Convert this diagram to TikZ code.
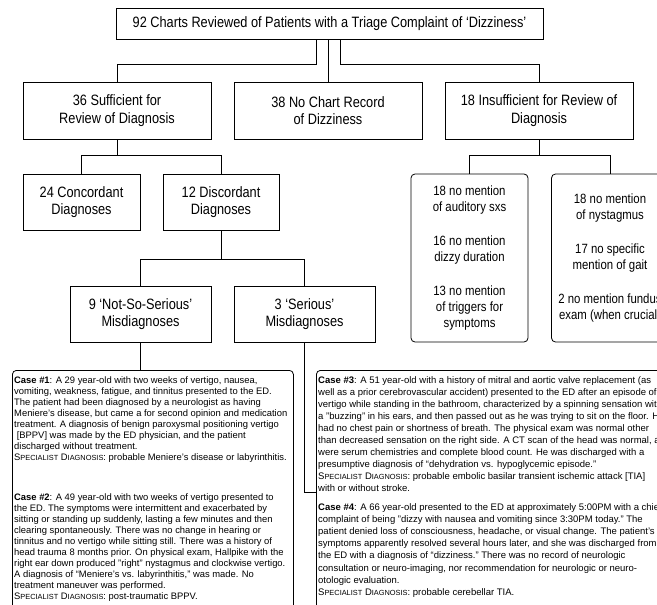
\documentclass[tikz,border=0pt]{standalone}
\usepackage{fontspec}
\setmainfont{Liberation Sans}
\newfontfamily\narrowfont[FakeStretch=0.85,Ligatures=TeX]{Liberation Sans}
\newcommand\smallcap[1]{{\fontsize{7.4bp}{11.1bp}\selectfont #1}}
\newcommand\specdx{S\smallcap{PECIALIST} D\smallcap{IAGNOSIS}}

\begin{document}
\begin{tikzpicture}[x=1bp,y=-1bp,
   every node/.style={inner sep=0pt},
   flowbox/.style={draw,line width=0.8bp,align=center,
      font=\narrowfont\fontsize{15bp}{17.5bp}\selectfont},
   notebox/.style={draw,line width=0.8bp,rounded corners=4bp,align=center,
      minimum width=117bp,minimum height=168bp,
      font=\narrowfont\fontsize{13.4bp}{16bp}\selectfont},
   casebox/.style={draw,line width=0.8bp,rounded corners=4bp,anchor=north west},
   casetext/.style={anchor=north west,align=left,
      font=\fontsize{9.4bp}{11.1bp}\selectfont},
   widecase/.style={casetext,font=\fontsize{9.5bp}{12.1bp}\selectfont},
   link/.style={line width=0.8bp}]
   \useasboundingbox (0,0) rectangle (657,605);

   \node[flowbox,minimum width=427bp,minimum height=31bp] (charts) at (329.5,23.5)
      {92 Charts Reviewed of Patients with a Triage Complaint of `Dizziness'};

   \node[flowbox,minimum width=188bp,minimum height=57bp] (suff) at (117,110.5)
      {36 Sufficient for\\Review of Diagnosis};
   \node[flowbox,minimum width=188bp,minimum height=57bp] (nochart) at (328,110.5)
      {38 No Chart Record\\of Dizziness};
   \node[flowbox,minimum width=188bp,minimum height=57bp] (insuff) at (539,110.5)
      {18 Insufficient for Review of\\Diagnosis};

   \node[flowbox,minimum width=117bp,minimum height=56bp] (conc) at (81.5,202)
      {24 Concordant\\Diagnoses};
   \node[flowbox,minimum width=116bp,minimum height=56bp] (disc) at (221,202)
      {12 Discordant\\Diagnoses};
   \node[notebox] (auditory) at (469.5,258)
      {18 no mention\\of auditory sxs\\[18bp]16 no mention\\dizzy duration\\[18bp]13 no mention\\of triggers for\\symptoms};
   \node[notebox] (nystag) at (610,258)
      {18 no mention\\of nystagmus\\[18bp]17 no specific\\mention of gait\\[18bp]2 no mention fundus\\exam (when crucial)};

   \node[flowbox,minimum width=141bp,minimum height=56bp] (mild) at (140.5,314)
      {9 `Not-So-Serious'\\Misdiagnoses};
   \node[flowbox,minimum width=141bp,minimum height=56bp] (grave) at (304.5,314)
      {3 `Serious'\\Misdiagnoses};

   % case boxes run off the page
   \node[casebox,minimum width=281bp,minimum height=300bp] (leftcases) at (12,370) {};
   \node[casebox,minimum width=380bp,minimum height=300bp] (rightcases) at (316,370) {};

   \node[casetext] (caseone) at (14,376)
      {\textbf{Case \#1}: A 29 year-old with two weeks of vertigo, nausea,\\
       vomiting, weakness, fatigue, and tinnitus presented to the ED.\\
       The patient had been diagnosed by a neurologist as having\\
       Meniere's disease, but came a for second opinion and medication\\
       treatment. A diagnosis of benign paroxysmal positioning vertigo\\{}
       [BPPV] was made by the ED physician, and the patient\\
       discharged without treatment.\\
       \specdx: probable Meniere's disease or labyrinthitis.};
   \node[casetext] (casetwo) at (14,493)
      {\textbf{Case \#2}: A 49 year-old with two weeks of vertigo presented to\\
       the ED. The symptoms were intermittent and exacerbated by\\
       sitting or standing up suddenly, lasting a few minutes and then\\
       clearing spontaneously. There was no change in hearing or\\
       tinnitus and  no vertigo while sitting still. There was a history of\\
       head trauma 8 months prior. On physical exam, Hallpike with the\\
       right ear down produced "right" nystagmus and clockwise vertigo.\\
       A diagnosis of “Meniere's vs. labyrinthitis," was made. No\\
       treatment maneuver was performed.\\
       \specdx: post-traumatic BPPV.};
   \node[widecase] (casethree) at (318,376)
      {\textbf{Case \#3}: A 51 year-old with a history of mitral and aortic valve replacement (as\\
       well as a prior cerebrovascular accident) presented to the ED after an episode of\\
       vertigo while standing in the bathroom, characterized by a spinning sensation with\\
       a "buzzing" in his ears, and then passed out as he was trying to sit on the floor. He\\
       had no chest pain or shortness of breath. The physical exam was normal other\\
       than decreased sensation on the right side. A CT scan of the head was normal, as\\
       were serum chemistries and complete blood count. He was discharged with a\\
       presumptive diagnosis of “dehydration vs. hypoglycemic episode."\\
       \specdx: probable embolic basilar transient ischemic attack [TIA]\\
       with or without stroke.};
   \node[widecase] (casefour) at (318,503.5)
      {\textbf{Case \#4}: A 66 year-old presented to the ED at approximately 5:00PM with a chief\\
       complaint of being "dizzy with nausea and vomiting since 3:30PM today." The\\
       patient denied loss of consciousness, headache, or visual change. The patient's\\
       symptoms apparently resolved several hours later, and she was discharged from\\
       the ED with a diagnosis of “dizziness." There was no record of neurologic\\
       consultation or neuro-imaging, nor recommendation for neurologic or neuro-\\
       otologic evaluation.\\
       \specdx: probable cerebellar TIA.};

   % connectors
   \draw[link] ([xshift=-13.5bp]charts.south) -- ++(0,25) -| (suff.north);
   \draw[link] (nochart.north) -- (nochart.north |- charts.south);
   \draw[link] ([xshift=10.5bp]charts.south) -- ++(0,25) -| (insuff.north);
   \draw[link] (suff.south) -- ++(0,16) -| (conc.north);
   \draw[link] (suff.south) ++(0,16) -| (disc.north);
   \draw[link] (insuff.south) -- ++(0,16) -| (auditory.north);
   \draw[link] (insuff.south) ++(0,16) -| (nystag.north);
   \draw[link] (disc.south) -- ++(0,29) -| (mild.north);
   \draw[link] (disc.south) ++(0,29) -| (grave.north);
   \draw[link] (mild.south) -- (mild.south |- leftcases.north);
   \draw[link] (grave.south) |- ([yshift=-122bp]rightcases.north west);
\end{tikzpicture}
\end{document}
